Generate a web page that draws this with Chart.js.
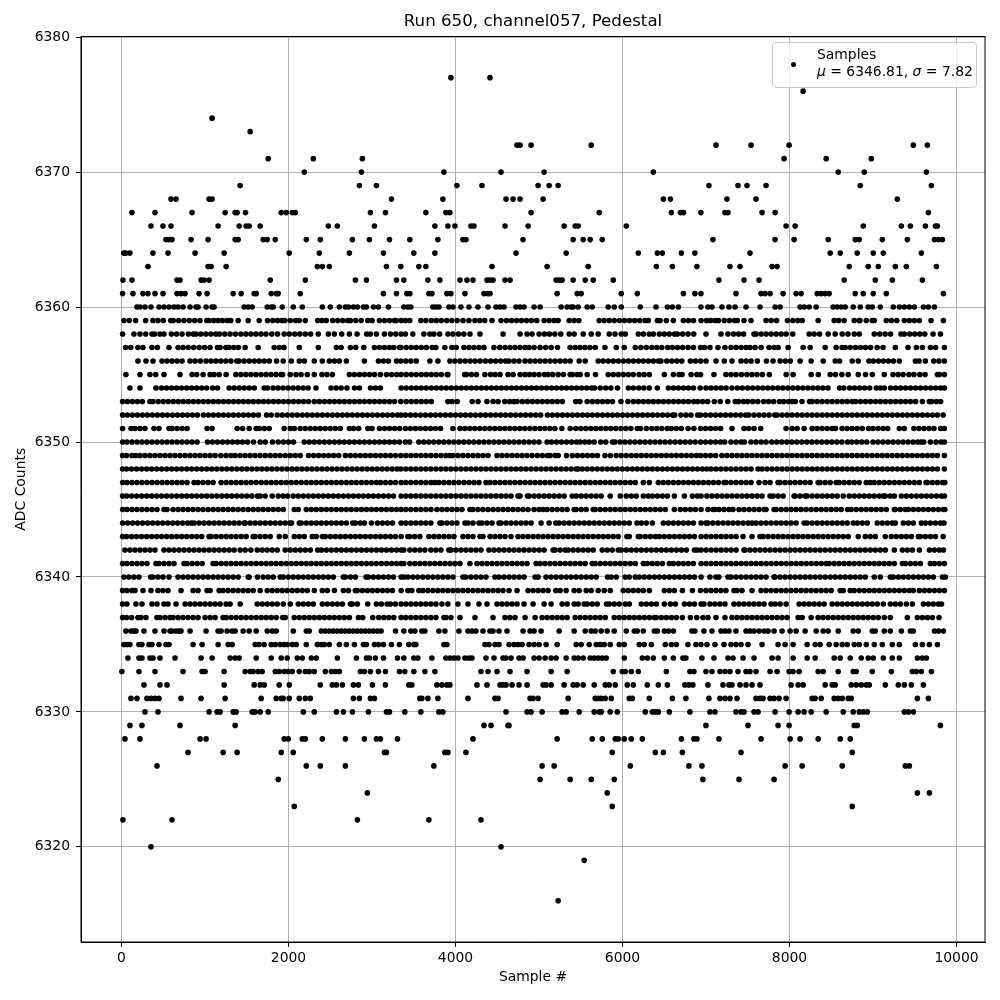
<!DOCTYPE html>
<html lang="en">
<head>
<meta charset="UTF-8" />
<title>Run 650, channel057, Pedestal</title>
<script src="https://cdn.jsdelivr.net/npm/chart.js"></script>
<style>
  body { margin: 0; background: white; }
  #wrap { position: relative; width: 1000px; height: 1000px; }
  #legendBox {
    position: absolute; left: 772px; top: 42px; width: 203px; height: 44px;
    background: rgba(255,255,255,0.8); border: 1px solid #ccc; border-radius: 4px;
    font-family: "DejaVu Sans", sans-serif; font-size: 13.9px; line-height: 17px; color: black;
  }
  #legendBox .dot { position: absolute; left: 18px; top: 19px; width: 5.4px; height: 5.4px; border-radius: 50%; background: black; }
  #legendBox .txt { position: absolute; left: 44px; top: 3px; white-space: nowrap; }
</style>
</head>
<body>
<div id="wrap">
  <canvas id="chart" width="1000" height="1000"></canvas>
  <div id="legendBox"><div class="dot"></div><div class="txt">Samples<br><i>μ</i> = 6346.81, <i>σ</i> = 7.82</div></div>
</div>
<script>
const xTicks = [0, 2000, 4000, 6000, 8000, 10000];
const yTicks = [6320, 6330, 6340, 6350, 6360, 6370, 6380];

// sample numbers per ADC level.
// Isolated dots are read one by one. In the dense rows (6359-6337) the dots merge
// into bars, so positions inside a bar are estimates that cover the visible run.
const s6377 = [3945,4413];
const s6376 = [8163];
const s6374 = [1085];
const s6373 = [1541];
const s6372 = [4737,4773,4905,5625,7119,7539,7995,9483,9651];
const s6371 = [1757,2297,2885,7935,8439,8979];
const s6370 = [2189,2873,3861,4545,5061,6369,8583,8895,9639];
const s6369 = [1421,2849,3053,4017,4317,4989,5121,5229,7035,7383,7491,7719,8847,9699];
const s6368 = [593,653,1049,1085,3233,3849,4605,4689,4773,5049,6489,6573,7251,7599,9291];
const s6367 = [125,401,845,1241,1361,1385,1485,1913,1973,2045,2081,2981,3161,3645,3885,3933,4905,5721,6585,6693,6729,6939,7227,7263,7671,7827,9663];
const s6366 = [353,497,593,1157,1409,1493,1529,1661,2477,2585,3029,3753,3909,3993,4185,4221,4593,4869,5301,5433,5469,6045,7959,8067,8883,9339,9447,9627,9747,9771];
const s6365 = [533,569,605,833,1037,1361,1397,1697,1745,1841,2213,2381,2765,2969,3209,3453,3789,4089,4125,4809,5409,5529,5613,5757,7083,7827,8055,8463,8787,8835,9111,9411,9735,9783,9831];
const s6364 = [29,53,101,377,557,881,1229,2009,2369,2729,3137,3501,3753,4725,5325,6189,6417,6477,6705,6867,7527,8487,8607,8811,9003,9123,9579];
const s6363 = [317,1037,1073,1253,2345,2405,2489,3173,3345,3561,3645,4437,5097,5589,6405,6597,6891,7287,7407,7791,7851,8715,8943,9063,9267,9399,9759];
const s6362 = [17,125,665,701,953,989,1049,1781,2201,2801,2933,3293,3381,3669,3813,4053,4137,4209,4377,4413,4449,4593,4653,5205,5241,5277,5409,5553,5649,5889,7155,7455,7635,8655,9027,9231,9591];
const s6361 = [13,137,257,317,401,497,665,713,761,929,1025,1337,1433,1589,1613,1793,1853,1877,2141,3137,3293,3417,3453,3681,3717,3897,3945,4113,4341,4389,4413,5217,5457,5505,5985,6177,6729,6867,6939,7359,7659,7707,7767,7923,8079,8139,8331,8379,8427,8475,8787,8883,9003,9159,9843];
const s6360 = [185,221,281,353,449,509,569,629,677,737,821,893,917,1013,1085,1109,1469,1517,1565,1745,1793,1817,1925,2057,2165,2405,2501,2609,2681,2717,2777,2825,2897,2933,3017,3077,3197,3381,3429,3465,3729,3765,3801,3921,3969,4065,4161,4269,4389,4485,4533,4581,4725,4773,4821,4941,5013,5265,5337,5385,5409,5469,5577,5637,5829,5901,5985,6213,6401,6537,6597,6669,6939,7023,7071,7191,7275,7347,7479,7647,7827,7887,8127,8175,8235,8319,8523,8571,8619,8667,8763,8847,8943,8991,9087,9243,9315,9375,9435,9495,9603,9663,9735];
const s6359 = [29,93,169,289,377,437,501,589,620,684,748,812,876,940,1021,1049,1105,1157,1209,1265,1309,1397,1517,1649,1749,1813,1870,1921,1957,2021,2085,2129,2201,2349,2400,2453,2529,2590,2650,2709,2741,2805,2870,2949,3001,3089,3150,3210,3269,3289,3349,3400,3453,3585,3645,3710,3770,3830,3895,3955,4020,4090,4161,4233,4290,4350,4437,4545,4610,4670,4730,4790,4850,4910,4973,5061,5120,5180,5229,5361,5421,5477,5721,5781,5841,5901,5965,6025,6085,6145,6205,6269,6309,6417,6450,6525,6609,6729,6790,6850,6941,7007,7055,7107,7150,7219,7280,7340,7375,7455,7539,7719,7780,7845,7975,8040,8100,8151,8343,8535,8590,8655,8775,8835,8843,8919,8990,9015,9159,9220,9285,9375,9435,9495,9555,9695,9843];
const s6358 = [13,149,221,290,365,397,460,509,597,660,725,801,861,893,949,1010,1070,1130,1173,1237,1300,1365,1430,1490,1550,1610,1670,1730,1800,1869,1949,2010,2075,2135,2200,2265,2357,2477,2549,2637,2729,2821,2937,2981,3053,3149,3221,3285,3349,3400,3489,3621,3693,3741,3810,3909,3969,4035,4100,4173,4293,4569,4773,4857,4917,5001,5065,5125,5190,5261,5361,5421,5529,5625,5709,5841,5910,5985,6033,6189,6250,6320,6369,6441,6501,6560,6621,6657,6720,6785,6853,7000,7179,7263,7330,7390,7450,7575,7599,7660,7720,7780,7840,7900,7960,8039,8235,8295,8360,8463,8547,8631,8700,8775,8835,9015,9080,9145,9210,9335,9375,9440,9500,9560,9620,9719,9807];
const s6357 = [49,110,197,257,365,430,569,678,737,800,865,930,995,1060,1149,1181,1250,1289,1345,1400,1481,1637,1829,1890,1945,2129,2357,2573,2630,2741,2805,2901,3029,3090,3150,3209,3261,3329,3345,3409,3470,3530,3590,3650,3720,3765,3873,3957,4010,4101,4161,4221,4281,4341,4461,4530,4593,4653,4713,4773,4833,4881,4941,5013,5080,5145,5221,5373,5433,5490,5550,5610,5673,5790,5925,6021,6153,6220,6285,6350,6410,6470,6541,6597,6660,6720,6785,6850,6935,6983,7047,7143,7227,7299,7360,7420,7480,7527,7587,7660,7755,7815,7863,7983,8163,8247,8427,8559,8630,8667,8727,8790,8850,8910,8970,9050,9120,9267,9419,9519,9591,9687,9750,9855];
const s6356 = [197,293,377,485,545,605,665,725,821,881,945,1013,1073,1130,1189,1250,1310,1381,1409,1470,1530,1590,1650,1710,1770,1857,1937,2033,2129,2190,2309,2405,2489,2549,2609,2693,2909,3077,3137,3197,3293,3345,3405,3465,3530,3693,3789,3933,3993,4055,4115,4175,4235,4295,4360,4420,4480,4540,4600,4640,4701,4761,4833,4893,4953,5013,5073,5133,5193,5253,5313,5373,5481,5553,5709,5769,5830,5890,5950,6010,6070,6130,6190,6250,6310,6370,6430,6460,6530,6590,6650,6710,6813,6873,6935,7000,7120,7219,7311,7419,7480,7539,7615,7723,7803,7887,7950,8010,8127,8259,8403,8547,8600,8751,8823,8951,9003,9065,9125,9185,9245,9315,9507,9551,9627,9727,9790,9855];
const s6355 = [53,221,341,410,509,701,845,900,977,1061,1109,1169,1253,1369,1430,1490,1550,1610,1670,1730,1790,1850,1910,1929,2021,2090,2150,2225,2309,2400,2460,2525,2729,2789,2850,2910,2970,3030,3100,3173,3234,3295,3349,3410,3470,3530,3590,3650,3710,3770,3830,3901,3909,4110,4130,4190,4250,4352,4420,4475,4533,4629,4690,4773,4833,4885,4941,5000,5065,5109,5165,5230,5293,5373,5400,5457,5493,5577,5677,5829,5890,5950,6010,6070,6130,6200,6260,6322,6501,6610,6677,6713,6821,6890,6935,7095,7239,7300,7360,7425,7490,7550,7610,7675,7759,7960,8043,8259,8345,8487,8550,8627,8703,8823,8910,8991,9135,9239,9300,9360,9430,9490,9560,9623,9771,9795,9855];
const s6354 = [101,221,413,480,540,600,660,720,780,840,900,960,1020,1090,1150,1289,1349,1409,1469,1530,1590,1709,1749,1815,1875,1935,1995,2055,2115,2175,2235,2329,2509,2570,2630,2700,2790,2849,2981,3041,3100,3349,3410,3470,3530,3590,3650,3710,3770,3830,3890,3950,4010,4070,4130,4190,4250,4310,4370,4430,4490,4550,4610,4670,4730,4790,4850,4910,4970,5030,5090,5150,5210,5270,5330,5390,5450,5510,5570,5630,5665,5733,5798,5860,5940,6070,6130,6195,6255,6320,6417,6549,6610,6670,6730,6790,6850,6930,7000,7060,7120,7180,7240,7310,7375,7435,7500,7560,7620,7680,7740,7800,7860,7920,7980,8040,8100,8160,8220,8280,8340,8400,8460,8600,8650,8720,8780,8840,8900,8960,9039,9087,9135,9210,9270,9330,9390,9450,9510,9570,9630,9690,9750,9810,9855];
const s6353 = [13,70,130,190,250,341,377,440,500,560,620,680,740,800,860,920,980,1040,1100,1160,1220,1280,1340,1400,1460,1520,1580,1640,1700,1760,1820,1880,1940,2000,2060,2120,2180,2240,2309,2369,2430,2490,2550,2610,2670,2730,2790,2850,2910,2970,3030,3090,3150,3210,3270,3345,3410,3470,3530,3590,3650,3710,3909,3960,4020,4200,4270,4377,4450,4510,4590,4650,4700,4737,4800,4860,4920,4980,5040,5100,5160,5220,5280,5440,5490,5577,5640,5700,5760,5820,5880,5981,6065,6130,6190,6250,6310,6370,6430,6490,6550,6610,6670,6730,6790,6853,6901,6960,7020,7100,7170,7260,7350,7390,7450,7500,7560,7620,7690,7750,7810,7880,7930,7990,8031,8070,8150,8240,8270,8330,8390,8450,8510,8570,8630,8690,8750,8790,8850,8910,8970,9030,9090,9150,9210,9270,9330,9390,9450,9510,9591,9675,9700,9760,9810];
const s6352 = [13,70,130,190,250,310,370,430,490,550,610,670,730,790,850,909,981,1040,1100,1160,1220,1280,1340,1400,1460,1520,1580,1640,1737,1793,1865,1925,1985,2045,2105,2165,2225,2285,2345,2405,2465,2525,2585,2645,2705,2765,2825,2885,2945,3005,3065,3125,3185,3245,3305,3349,3400,3461,3520,3580,3640,3700,3760,3820,3880,3940,4000,4060,4120,4180,4240,4300,4360,4420,4480,4540,4600,4660,4720,4780,4840,4900,4960,5020,5101,5160,5220,5280,5340,5400,5460,5520,5580,5640,5700,5760,5820,5880,5940,6000,6060,6120,6180,6240,6300,6360,6420,6480,6540,6600,6625,6700,6760,6820,6900,6935,6995,7055,7115,7175,7235,7295,7355,7415,7475,7511,7575,7635,7695,7755,7823,7851,7911,7971,8031,8091,8151,8211,8271,8331,8391,8451,8511,8571,8631,8691,8751,8811,8871,8931,8991,9051,9111,9171,9231,9291,9351,9411,9471,9531,9591,9651,9711,9771,9840];
const s6351 = [13,113,161,220,280,389,449,569,605,665,725,785,1025,1085,1385,1450,1530,1613,1650,1710,1769,1949,2021,2069,2140,2200,2260,2320,2380,2440,2500,2560,2620,2729,2780,2840,2950,3000,3089,3150,3210,3270,3330,3400,3460,3520,3580,3641,3700,3760,3821,3969,4053,4110,4170,4230,4290,4350,4410,4470,4530,4590,4650,4710,4770,4830,4890,4950,5010,5070,5130,5190,5273,5373,5440,5500,5560,5620,5680,5740,5800,5860,5920,5980,6040,6100,6177,6215,6285,6350,6410,6470,6535,6585,6645,6705,6785,6855,6935,6995,7055,7115,7175,7311,7455,7511,7575,7655,7959,8031,8091,8175,8271,8331,8391,8451,8511,8551,8630,8690,8750,8810,8871,8946,9000,9060,9120,9175,9315,9375,9490,9550,9610,9670,9730,9810,9855];
const s6350 = [13,65,125,185,245,305,365,425,485,545,605,665,725,785,845,905,1029,1089,1149,1209,1269,1329,1389,1449,1509,1581,1661,1721,1809,1877,1940,2000,2060,2189,2249,2309,2369,2429,2489,2549,2609,2669,2729,2789,2849,2909,2969,3029,3089,3149,3209,3269,3329,3400,3450,3561,3620,3680,3740,3800,3860,3920,3980,4040,4100,4160,4220,4280,4340,4400,4460,4520,4580,4640,4700,4760,4820,4880,4940,5000,5097,5150,5210,5270,5330,5390,5450,5493,5550,5601,5660,5740,5800,5880,5910,5970,6030,6090,6150,6210,6270,6330,6390,6450,6510,6570,6630,6690,6750,6810,6870,6935,6995,7055,7115,7175,7223,7299,7360,7420,7459,7539,7600,7660,7719,7787,7847,7907,7967,8027,8087,8147,8207,8267,8327,8387,8447,8507,8567,8627,8695,8745,8805,8865,8925,9000,9060,9120,9180,9240,9300,9360,9420,9480,9535,9575,9607,9687,9755,9815,9855];
const s6349 = [13,61,125,170,221,281,341,401,461,521,581,641,701,761,821,881,941,1001,1061,1121,1189,1251,1311,1361,1421,1481,1541,1601,1661,1721,1781,1841,1901,1961,2021,2081,2141,2240,2301,2361,2421,2481,2541,2601,2681,2741,2801,2861,2921,2981,3041,3101,3161,3221,3281,3345,3405,3465,3525,3585,3645,3705,3765,3825,3885,3933,3969,4029,4089,4149,4209,4269,4329,4389,4497,4557,4617,4677,4737,4797,4857,4917,4980,5040,5100,5133,5193,5229,5329,5400,5460,5520,5580,5640,5700,5790,5855,5925,5985,6045,6105,6165,6225,6285,6345,6405,6465,6525,6585,6645,6705,6765,6825,6885,6935,6995,7055,7115,7190,7250,7310,7370,7430,7490,7550,7610,7670,7730,7790,7850,7910,7970,8030,8090,8150,8210,8270,8330,8390,8450,8510,8570,8630,8690,8750,8810,8870,8930,8990,9050,9110,9170,9230,9290,9350,9410,9470,9530,9590,9650,9710,9770,9855];
const s6348 = [13,61,121,181,241,301,361,421,481,541,601,661,721,781,841,901,961,1021,1081,1141,1201,1261,1321,1381,1441,1501,1561,1621,1681,1741,1801,1861,1921,1981,2041,2101,2161,2221,2281,2341,2401,2461,2521,2581,2641,2701,2761,2821,2881,2941,3001,3061,3121,3181,3241,3301,3345,3405,3465,3525,3585,3645,3705,3765,3825,3885,3945,4005,4065,4125,4185,4245,4305,4365,4425,4485,4545,4605,4665,4725,4785,4845,4905,4965,5025,5085,5145,5205,5265,5325,5385,5445,5469,5517,5577,5637,5697,5757,5817,5877,5937,5997,6057,6117,6177,6237,6297,6357,6417,6477,6537,6597,6657,6717,6777,6837,6897,6957,7007,7059,7119,7179,7239,7299,7359,7419,7479,7539,7623,7671,7731,7791,7851,7911,7971,8031,8091,8151,8211,8271,8331,8391,8451,8511,8571,8631,8691,8751,8811,8871,8931,8991,9051,9111,9171,9231,9291,9351,9411,9471,9531,9591,9651,9711,9771,9855];
const s6347 = [13,65,125,185,245,305,365,425,485,545,605,665,725,785,869,917,977,1037,1097,1193,1253,1313,1373,1433,1493,1553,1613,1673,1733,1793,1853,1913,1973,2033,2093,2153,2213,2273,2333,2393,2453,2513,2573,2633,2693,2753,2813,2873,2933,2993,3053,3101,3161,3221,3281,3349,3405,3465,3525,3585,3645,3705,3753,3801,3861,3921,3981,4041,4101,4161,4221,4281,4365,4413,4473,4533,4593,4653,4713,4773,4833,4893,4953,5013,5073,5133,5193,5253,5313,5373,5433,5493,5553,5613,5673,5733,5793,5853,5913,5973,6033,6093,6153,6249,6321,6429,6489,6549,6609,6669,6729,6789,6849,6909,6969,7029,7089,7149,7215,7239,7299,7359,7419,7479,7539,7635,7707,7767,7863,7887,7947,8007,8067,8127,8187,8247,8343,8367,8427,8487,8559,8595,8655,8715,8775,8835,8919,8967,9015,9075,9135,9195,9255,9315,9375,9435,9495,9555,9635,9651,9711,9771,9831,9860];
const s6346 = [13,61,121,181,241,301,361,421,481,541,601,661,721,781,841,901,961,1021,1081,1141,1201,1261,1321,1381,1441,1501,1561,1629,1661,1721,1805,1877,1937,1989,2057,2117,2177,2237,2297,2357,2417,2477,2537,2597,2657,2717,2777,2837,2897,2957,3017,3077,3137,3197,3257,3349,3405,3465,3525,3585,3645,3705,3765,3825,3885,3945,4005,4065,4125,4185,4245,4305,4365,4425,4485,4545,4605,4665,4749,4773,4861,4881,4941,5001,5061,5121,5181,5241,5301,5397,5445,5505,5565,5625,5685,5745,5853,5973,6045,6105,6165,6249,6309,6357,6417,6477,6537,6621,6741,6837,6897,6941,7011,7071,7131,7191,7251,7311,7371,7431,7491,7551,7611,7671,7767,7803,7863,7923,8055,8067,8127,8187,8211,8271,8331,8391,8451,8511,8571,8643,8715,8775,8835,8895,8955,9015,9075,9123,9147,9207,9255,9339,9399,9459,9519,9579,9639,9699,9759,9819,9855];
const s6345 = [13,65,125,185,245,305,365,425,509,545,617,677,737,797,857,917,977,1037,1097,1157,1217,1277,1337,1397,1457,1517,1577,1637,1697,1757,1817,1877,1937,2069,2117,2213,2273,2333,2393,2453,2513,2573,2633,2693,2753,2813,2873,2933,2993,3053,3113,3173,3233,3293,3349,3405,3465,3525,3585,3645,3705,3777,3837,3897,3957,4017,4077,4173,4209,4269,4329,4389,4449,4509,4569,4629,4689,4749,4809,4869,4941,5001,5049,5097,5157,5217,5277,5337,5421,5445,5505,5565,5649,5673,5733,5793,5853,5913,5973,6033,6093,6153,6213,6273,6333,6393,6453,6513,6621,6693,6753,6813,6873,6941,7023,7083,7107,7155,7215,7275,7323,7395,7455,7515,7575,7635,7695,7719,7815,7839,7899,7959,8019,8079,8139,8199,8259,8319,8379,8439,8499,8559,8619,8695,8739,8799,8859,8919,8979,9039,9099,9159,9255,9267,9327,9387,9423,9483,9543,9603,9663,9723,9783,9843,9860];
const s6344 = [13,73,133,193,253,313,373,433,493,553,613,673,733,793,837,869,929,989,1049,1109,1169,1229,1289,1349,1409,1469,1481,1541,1601,1661,1721,1781,1841,1901,1961,2017,2037,2129,2153,2213,2273,2333,2393,2453,2513,2573,2633,2693,2769,2801,2861,2909,2993,3065,3125,3185,3245,3349,3405,3465,3525,3585,3645,3705,3813,3837,3897,3957,4017,4113,4149,4209,4281,4317,4377,4437,4521,4545,4605,4665,4725,4785,4845,4905,5025,5121,5201,5241,5301,5361,5421,5481,5541,5601,5661,5721,5781,5841,5901,5961,6021,6081,6173,6225,6285,6357,6489,6549,6609,6669,6729,6789,6849,6941,6999,7023,7083,7143,7203,7263,7323,7383,7443,7503,7551,7599,7659,7719,7779,7839,7899,7959,8019,8079,8175,8211,8271,8331,8391,8451,8511,8571,8631,8691,8763,8811,8871,8931,9051,9111,9171,9231,9267,9363,9423,9483,9579,9627,9687,9747,9807,9850];
const s6343 = [13,61,121,181,241,301,361,421,481,541,601,661,721,781,841,901,961,1049,1073,1133,1193,1253,1313,1373,1433,1493,1577,1601,1661,1721,1781,1889,1961,2069,2129,2189,2285,2333,2405,2441,2501,2561,2621,2681,2741,2801,2861,2921,2981,3041,3101,3161,3221,3281,3349,3429,3453,3513,3573,3681,3741,3801,3861,3921,3981,4089,4149,4209,4293,4329,4413,4473,4533,4593,4665,4749,4809,4869,4929,4989,5049,5109,5169,5229,5289,5349,5409,5469,5529,5589,5649,5709,5769,5829,5889,5949,6053,6081,6189,6213,6273,6333,6393,6441,6501,6561,6621,6681,6741,6801,6861,6941,7001,7061,7121,7181,7241,7301,7361,7443,7551,7647,7683,7743,7803,7863,7923,7983,8043,8103,8163,8223,8283,8343,8403,8463,8523,8583,8643,8703,8823,8907,8967,9027,9147,9219,9279,9339,9399,9459,9543,9567,9627,9687,9747,9840];
const s6342 = [41,101,161,221,281,341,401,509,569,629,689,749,809,869,929,989,1049,1109,1169,1229,1289,1349,1421,1481,1549,1625,1685,1745,1805,1865,1961,2021,2081,2141,2201,2261,2349,2393,2453,2513,2573,2633,2693,2753,2813,2873,2933,2993,3053,3113,3173,3233,3293,3349,3381,3453,3513,3573,3633,3705,3765,3825,3921,3945,4005,4065,4125,4185,4245,4305,4401,4461,4521,4581,4641,4701,4761,4821,4881,4941,5001,5061,5169,5193,5253,5313,5349,5409,5469,5529,5589,5649,5757,5817,5877,5949,5985,6045,6105,6165,6225,6285,6345,6405,6465,6525,6585,6645,6705,6765,6861,6897,6941,7001,7061,7121,7181,7241,7301,7361,7455,7467,7527,7587,7647,7707,7767,7827,7887,7947,8007,8067,8127,8187,8247,8307,8367,8427,8487,8547,8607,8667,8727,8787,8847,8907,8967,9027,9087,9147,9255,9351,9411,9471,9555,9675,9735,9795,9843];
const s6341 = [13,65,125,185,245,305,413,449,509,569,629,749,785,845,905,965,1097,1133,1193,1253,1313,1373,1433,1493,1553,1613,1673,1733,1793,1853,1913,1973,2033,2093,2153,2213,2273,2333,2393,2453,2513,2573,2633,2693,2753,2813,2873,2933,2993,3053,3113,3173,3233,3293,3349,3381,3453,3513,3573,3633,3693,3753,3813,3873,3933,3993,4053,4173,4257,4317,4377,4437,4497,4557,4617,4677,4737,4797,4857,4965,5013,5073,5133,5193,5253,5313,5373,5433,5493,5553,5637,5673,5733,5793,5853,5913,5973,6033,6093,6153,6249,6297,6357,6417,6477,6561,6609,6669,6729,6789,6849,6941,7001,7061,7121,7181,7241,7301,7361,7421,7481,7541,7601,7661,7721,7781,7841,7901,7961,8021,8081,8141,8201,8261,8321,8381,8439,8475,8535,8595,8655,8715,8775,8835,8895,8955,9015,9075,9135,9195,9255,9351,9387,9447,9507,9567,9687,9735,9795,9855];
const s6340 = [29,89,149,209,349,377,437,497,569,677,737,797,857,917,977,1037,1097,1157,1217,1277,1337,1397,1517,1529,1629,1697,1757,1817,1901,1937,1997,2057,2117,2177,2237,2297,2357,2417,2477,2537,2657,2681,2741,2801,2929,2957,3017,3077,3137,3197,3257,3349,3381,3429,3489,3549,3609,3669,3729,3789,3849,3909,3969,4089,4125,4185,4245,4305,4365,4473,4521,4581,4641,4701,4761,4821,4953,4989,5085,5145,5205,5265,5325,5385,5445,5505,5565,5625,5685,5821,5865,5925,6033,6081,6153,6201,6261,6321,6381,6441,6501,6561,6621,6681,6741,6801,6861,6941,7047,7119,7155,7263,7299,7359,7419,7479,7539,7599,7659,7719,7815,7827,7887,7947,8007,8067,8127,8187,8247,8307,8367,8427,8487,8547,8607,8667,8727,8787,8847,8907,9015,9087,9207,9243,9303,9363,9423,9483,9543,9603,9663,9723,9831,9867];
const s6339 = [13,65,125,161,257,353,437,497,557,713,857,917,1025,1061,1169,1217,1277,1337,1397,1457,1517,1577,1661,1745,1805,1865,1925,1985,2045,2105,2165,2225,2309,2405,2465,2549,2657,2717,2801,2825,2885,2945,3005,3065,3125,3185,3245,3349,3429,3477,3561,3609,3669,3729,3789,3849,3909,3969,4029,4089,4149,4209,4269,4329,4389,4449,4509,4569,4641,4737,4869,4929,4989,5049,5109,5201,5253,5325,5421,5481,5565,5625,5709,5781,5853,6009,6069,6129,6189,6249,6321,6501,6561,6621,6717,6837,6933,6999,7059,7119,7179,7239,7335,7371,7431,7551,7659,7719,7779,7839,7899,7959,8019,8079,8139,8199,8259,8319,8379,8439,8499,8607,8643,8727,8775,8835,8895,8955,9015,9075,9135,9195,9255,9315,9375,9435,9483,9555,9615,9675,9735,9795,9855];
const s6338 = [13,65,173,245,365,425,509,557,653,761,821,881,941,1001,1061,1121,1181,1253,1301,1421,1625,1685,1745,1805,1865,1937,2021,2117,2177,2237,2297,2405,2465,2525,2585,2645,2741,2765,2825,2949,3053,3113,3181,3221,3281,3349,3405,3465,3525,3585,3645,3705,3765,3837,3909,4029,4149,4281,4377,4497,4557,4617,4677,4737,4821,4929,5061,5145,5277,5337,5421,5469,5541,5577,5637,5697,5809,5841,5901,5961,6033,6081,6225,6285,6345,6405,6501,6573,6633,6741,6801,6861,6941,6975,7047,7107,7167,7227,7335,7395,7455,7515,7575,7635,7695,7779,7827,7887,7959,8115,8175,8235,8295,8355,8415,8511,8571,8631,8691,8751,8811,8871,8931,8991,9051,9123,9207,9267,9327,9399,9471,9603,9663,9723,9783,9820];
const s6337 = [13,61,121,197,233,293,425,461,521,581,617,677,737,797,857,917,1001,1061,1121,1217,1253,1313,1373,1433,1493,1553,1613,1673,1733,1793,1853,1929,1961,2069,2129,2189,2249,2309,2369,2429,2489,2549,2609,2669,2729,2837,2889,3009,3081,3141,3201,3261,3349,3405,3465,3525,3585,3645,3705,3765,3861,3885,3945,4053,4233,4449,4593,4653,4713,4833,4953,5037,5097,5157,5217,5277,5337,5433,5493,5553,5613,5673,5733,5793,5901,5961,6021,6081,6141,6201,6261,6321,6381,6405,6465,6525,6585,6645,6717,6813,6889,6963,7023,7119,7227,7311,7371,7431,7491,7551,7611,7671,7731,7791,7851,7911,7971,8103,8151,8259,8343,8403,8463,8523,8583,8643,8703,8763,8823,8883,8943,9003,9063,9135,9207,9411,9531,9591,9651,9711,9790];
const s6336 = [53,113,149,173,269,401,509,581,605,653,689,713,821,1013,1157,1193,1265,1325,1361,1457,1529,1613,1745,1805,1853,2057,2213,2249,2393,2441,2489,2537,2585,2633,2681,2729,2777,2825,2873,2921,2969,3017,3065,3109,3281,3381,3465,3513,3597,3633,3801,3873,4041,4149,4197,4245,4329,4413,4449,4521,4617,4809,4893,4941,5025,5241,5421,5553,5625,5673,5745,5817,5901,6045,6141,6177,6249,6381,6417,6501,6549,6609,6831,6867,6975,7071,7179,7227,7275,7359,7479,7527,7575,7635,7695,7743,7815,7911,8007,8079,8187,8319,8403,8463,8583,8763,8823,8991,9027,9135,9207,9339,9447,9483,9735,9783,9843];
const s6335 = [29,65,101,209,245,329,365,449,533,569,857,965,1157,1277,1325,1601,1649,1709,1793,1841,1901,1949,1985,2045,2093,2213,2345,2393,2429,2489,2609,2693,2789,2897,2933,3029,3077,3137,3233,3329,3441,3501,3525,3861,3897,4353,4401,4473,4521,4641,4701,4749,4797,4881,4941,5001,5085,5217,5445,5505,5601,5685,5733,5781,5853,5961,6021,6201,6261,6345,6513,6585,6645,6783,6879,6939,7011,7107,7215,7299,7359,7419,7503,7671,7863,7947,8043,8211,8307,8367,8475,8559,8631,8691,8775,8835,8919,9015,9111,9231,9315,9507,9591,9675,9771];
const s6334 = [77,209,245,341,377,461,641,953,1085,1301,1361,1409,1613,1793,1913,1985,2105,2165,2273,2333,2585,2813,2933,2969,3041,3137,3305,3381,3501,3549,3717,3885,3933,3981,4029,4113,4161,4197,4365,4461,4569,4605,4665,4761,4809,4941,5001,5073,5145,5205,5325,5421,5469,5529,5613,5661,5709,5757,5805,6021,6237,6297,6369,6501,6609,6723,6759,6951,7095,7263,7323,7443,7575,7791,7863,8043,8211,8307,8535,8607,8727,8859,8943,9003,9123,9231,9315,9531,9591,9639];
const s6333 = [5,209,401,737,965,1001,1229,1481,1541,1577,1637,1685,1841,1889,1949,1997,2045,2129,2201,2249,2309,2441,2513,2561,2609,2861,2909,2981,3077,3161,3329,3393,3501,3633,3753,4305,4389,4497,4653,4857,5145,5337,5889,5997,6033,6105,6189,6525,6807,6855,6999,7071,7167,7227,7287,7383,7479,7527,7599,7767,7851,7995,8043,8115,8343,8403,8583,8763,8799,8991,9219,9471,9519,9579,9699];
const s6332 = [269,461,545,1229,1589,1661,1709,1889,2009,2381,2525,2573,2645,2777,2837,3005,3161,3441,3477,3777,3837,3897,3933,4257,4377,4533,4569,4605,4677,4761,4857,5049,5085,5145,5301,5409,5457,5529,5661,5793,5841,5913,6057,6129,6297,6429,6537,6747,6795,6843,7023,7203,7275,7311,7407,7479,7551,7647,8019,8103,8163,8427,8511,8547,8739,8799,8859,8919,8955,9147,9303,9375,9459,9603];
const s6331 = [113,185,305,353,401,449,713,953,1241,1673,1853,1913,1937,2009,2129,2201,2261,2777,2849,2981,3029,3573,3597,3669,3789,4149,4473,4509,4893,4929,4989,5349,5673,5709,5745,5793,5865,6081,6117,6321,6597,6759,7035,7167,7227,7287,7371,7599,7647,7683,7767,7815,7875,7959,8271,8307,8379,8535,8583,8631,8703,8739,9531,9663];
const s6330 = [281,437,1049,1145,1181,1337,1373,1565,1601,1661,1757,2177,2309,2573,2657,2765,2957,3173,3209,3393,3585,3801,3849,4605,4857,4905,5037,5277,5325,5481,5661,5721,5745,5853,5937,6273,6357,6393,6429,6561,6807,7047,7107,7359,7419,7455,7575,7623,7827,7995,8103,8175,8259,8439,8643,8763,8835,8883,8931,9375,9423,9483];
const s6329 = [101,245,701,1361,4341,4425,4629,4641,6999,7503,7863,7995,8775,8811,9807];
const s6328 = [41,221,941,1013,1949,1997,2165,2201,2405,2681,2909,3053,3101,3305,4209,5217,5637,5757,5913,5949,6021,6105,6237,6705,6855,6891,7155,7659,8007,8127,8343,8607,8727];
const s6327 = [797,1217,1385,1913,2057,3149,3173,3873,3909,4125,5877,6393,6489,6717,7419,8751];
const s6326 = [425,2213,2381,2681,3741,5037,5181,6093,6795,6951,7947,8151,8631,9387,9435];
const s6325 = [1877,5013,5373,5625,5901,6963,7395,7815];
const s6324 = [2945,5817,9531,9675];
const s6323 = [2069,5877,8751];
const s6322 = [17,605,2825,3681,4305];
const s6320 = [353,4545];
const s6319 = [5541];
const s6316 = [5229];

const levels = [6377,6376,6374,6373,6372,6371,6370,6369,6368,6367,6366,6365,6364,6363,6362,6361,6360,6359,6358,6357,6356,6355,6354,6353,6352,6351,6350,6349,6348,6347,6346,6345,6344,6343,6342,6341,6340,6339,6338,6337,6336,6335,6334,6333,6332,6331,6330,6329,6328,6327,6326,6325,6324,6323,6322,6320,6319,6316];
const rows = [s6377,s6376,s6374,s6373,s6372,s6371,s6370,s6369,s6368,s6367,s6366,s6365,s6364,s6363,s6362,s6361,s6360,s6359,s6358,s6357,s6356,s6355,s6354,s6353,s6352,s6351,s6350,s6349,s6348,s6347,s6346,s6345,s6344,s6343,s6342,s6341,s6340,s6339,s6338,s6337,s6336,s6335,s6334,s6333,s6332,s6331,s6330,s6329,s6328,s6327,s6326,s6325,s6324,s6323,s6322,s6320,s6319,s6316];

const points = [];
levels.forEach((lvl, i) => rows[i].forEach(x => points.push({ x: x, y: lvl })));

const fontFamily = '"DejaVu Sans", sans-serif';
const titleText = 'Run 650, channel057, Pedestal';

// top and right spines, and the title centred over the axes box
const framePlugin = {
  id: 'frame',
  afterDatasetsDraw(chart) {
    const a = chart.chartArea, c = chart.ctx;
    c.save();
    c.strokeStyle = 'black';
    c.lineWidth = 1;
    c.strokeRect(a.left, a.top, a.right - a.left, a.bottom - a.top);
    c.fillStyle = 'black';
    c.font = '16.67px ' + fontFamily;
    c.textAlign = 'center';
    c.textBaseline = 'middle';
    c.fillText(titleText, (a.left + a.right) / 2, 22);
    c.restore();
  }
};

new Chart(document.getElementById('chart'), {
  type: 'scatter',
  data: {
    datasets: [{
      label: 'Samples',
      data: points,
      backgroundColor: 'black',
      borderWidth: 0,
      pointRadius: 2.8,
      pointHoverRadius: 2.8
    }]
  },
  options: {
    responsive: false,
    animation: false,
    layout: { padding: { top: 36.5, right: 15 } },
    plugins: {
      legend: { display: false },
      tooltip: { enabled: false },
      title: { display: false }
    },
    scales: {
      x: {
        type: 'linear',
        min: -485,
        max: 10341,
        afterBuildTicks(axis) { axis.ticks = xTicks.map(v => ({ value: v })); },
        afterFit(axis) { axis.height = 58; },
        grid: { color: '#b0b0b0', lineWidth: 1, tickColor: 'black', tickLength: 5 },
        border: { color: 'black' },
        ticks: { color: 'black', font: { family: fontFamily, size: 13.9 }, maxRotation: 0, padding: 3, callback: v => String(v) },
        title: { display: true, text: 'Sample #', color: 'black', font: { family: fontFamily, size: 13.9 }, padding: { top: 2, bottom: 14.7 } }
      },
      y: {
        min: 6312.95,
        max: 6380.05,
        afterBuildTicks(axis) { axis.ticks = yTicks.map(v => ({ value: v })); },
        afterFit(axis) { axis.width = 81; },
        grid: { color: '#b0b0b0', lineWidth: 1, tickColor: 'black', tickLength: 5 },
        border: { color: 'black' },
        ticks: { color: 'black', font: { family: fontFamily, size: 13.9 }, padding: 6, callback: v => String(v) },
        title: { display: true, text: 'ADC Counts', color: 'black', font: { family: fontFamily, size: 13.9 }, padding: { top: 13, bottom: 4 } }
      }
    }
  },
  plugins: [framePlugin]
});
</script>
</body>
</html>
